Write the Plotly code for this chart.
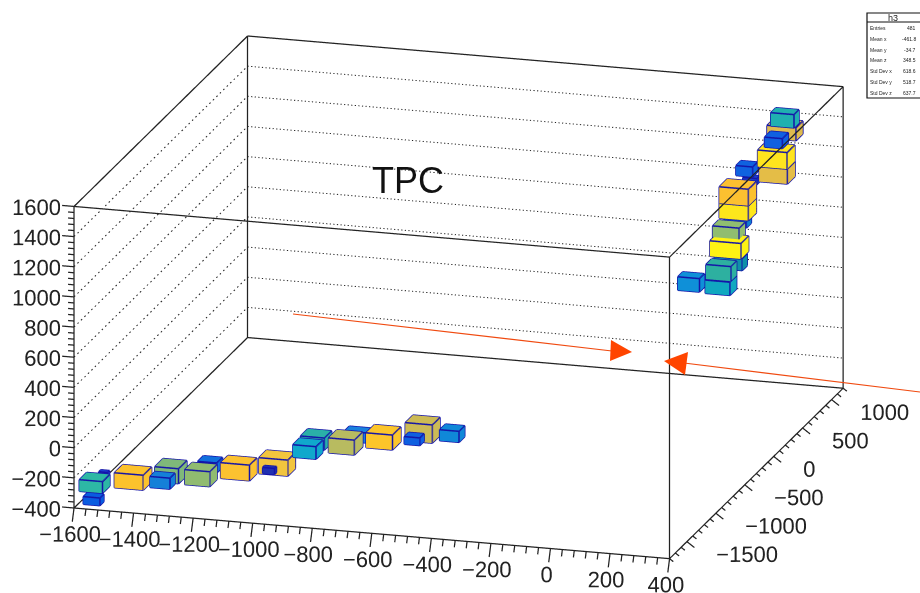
import numpy as np
import plotly.graph_objects as go

# axis definition
x_min, x_max = -1600, 400
y_min, y_max = -1800, 1200
z_min, z_max = -400, 1600
x_ticks = list(range(-1600, 401, 200))
y_ticks = [-1500, -1000, -500, 0, 500, 1000]
z_ticks = list(range(-400, 1601, 200))

# box histogram: centre, size, colour of each box
bx = [-1560,-1544,-1557,-1431,-1343,-1332,-1203,-1211,-1076,-947,-955,-855,-844,-717,-715,-590,-468,-473,-359,
      253,234,254,224,227,96,101,95,95,66,65,76,42,49,-91,48]
by = [-1650,-1750,-1500,-1650,-1450,-1650,-1650,-1450,-1650,-1650,-1740,-1450,-1650,-1650,-1450,-1650,-1600,-1720,-1650,
      950,1050,800,950,950,1100,1150,950,950,1100,950,900,1100,900,1100,900]
bz = [-283,-351,-274,-225,-244,-228,-168,-177,-104,-49,-62,48,64,127,104,182,238,217,248,
      1463,1344,1373,1206,1102,1042,952,942,838,707,677,601,422,438,260,342]
bdx = [78,56,30,97,80,67,84,64,97,97,40,80,78,87,74,89,91,52,65,
       78,97,60,99,95,56,47,98,98,74,89,104,94,84,73,83]
bdy = [127,69,35,144,144,87,127,99,127,133,35,127,116,144,87,144,133,75,99,
       87,121,104,133,133,87,50,139,139,87,104,133,87,99,87,116]
bdz = [77,51,25,99,99,73,99,66,104,106,40,80,83,99,66,99,121,51,73,
       88,86,66,110,99,66,40,110,99,80,99,103,80,97,89,88]
bcol = ["#2db8a5","#0a5ce0","#1a3fd0","#fcc22c","#7fb87a","#1580d8","#90bb70","#1070dd","#fcc230","#f2c53e","#2030b0",
        "#2ab0a8","#10a8cc","#b8bb60","#1a80dd","#fcc52a","#ccba55","#0f60e0","#1088d8",
        "#20b0b0","#dfbb4e","#1060e0","#fee41e","#e4bd47","#0f62e0","#1a40c8","#fcc030","#fde61c","#1080d0","#90bd70",
        "#fdf214","#1090a8","#2db0a0","#0f90d8","#10a8c0"]

stats_labels = ["Entries", "Mean x", "Mean y", "Mean z", "Std Dev x", "Std Dev y", "Std Dev z"]
stats_values = ["481", "-461.8", "-34.7", "348.5", "618.6", "518.7", "637.7"]

fig = go.Figure()

# boxes
vx, vy, vz, fi, fj, fk, fcol = [], [], [], [], [], [], []
ex, ey, ez = [], [], []
quad = [(0,1,2),(0,2,3),(4,5,6),(4,6,7),(0,1,5),(0,5,4),(1,2,6),(1,6,5),(2,3,7),(2,7,6),(3,0,4),(3,4,7)]
edges = [(0,1),(1,2),(2,3),(3,0),(4,5),(5,6),(6,7),(7,4),(0,4),(1,5),(2,6),(3,7)]
for cx, cy, cz, dx, dy, dz, c in zip(bx, by, bz, bdx, bdy, bdz, bcol):
    n = len(vx)
    xs = [cx-dx/2, cx+dx/2, cx+dx/2, cx-dx/2]*2
    ys = [cy-dy/2, cy-dy/2, cy+dy/2, cy+dy/2]*2
    zs = [cz-dz/2]*4 + [cz+dz/2]*4
    vx += xs; vy += ys; vz += zs
    for a, b, d in quad:
        fi.append(n+a); fj.append(n+b); fk.append(n+d); fcol.append(c)
    for a, b in edges:
        ex += [xs[a], xs[b], None]; ey += [ys[a], ys[b], None]; ez += [zs[a], zs[b], None]
fig.add_trace(go.Mesh3d(x=vx, y=vy, z=vz, i=fi, j=fj, k=fk, facecolor=fcol, flatshading=True,
                        lighting=dict(ambient=1, diffuse=0, specular=0, fresnel=0, roughness=1),
                        hoverinfo="skip", showscale=False))
fig.add_trace(go.Scatter3d(x=ex, y=ey, z=ez, mode="lines", line=dict(color="#1414a8", width=3), hoverinfo="skip"))

# wire frame
wx, wy, wz = [], [], []
def seg(a, b):
    wx.extend([a[0], b[0], None]); wy.extend([a[1], b[1], None]); wz.extend([a[2], b[2], None])
for yy, zz in [(y_min,z_min),(y_max,z_min),(y_min,z_max),(y_max,z_max)]:
    seg((x_min,yy,zz),(x_max,yy,zz))
for xx, zz in [(x_min,z_min),(x_max,z_min),(x_min,z_max),(x_max,z_max)]:
    seg((xx,y_min,zz),(xx,y_max,zz))
for xx, yy in [(x_min,y_min),(x_max,y_min),(x_min,y_max),(x_max,y_max)]:
    seg((xx,yy,z_min),(xx,yy,z_max))
# ticks
for v in range(x_min, x_max+1, 40):
    major = (v - x_min) % 200 == 0
    L = 1.0 if major else 0.5
    seg((v,y_min,z_min),(v,y_min-30*L,z_min-80*L))
for v in range(y_min, y_max+1, 100):
    major = v % 500 == 0
    L = 1.0 if major else 0.5
    seg((x_max,v,z_min),(x_max+25*L,v,z_min-35*L))
for v in range(z_min, z_max+1, 40):
    major = (v - z_min) % 200 == 0
    L = 1.0 if major else 0.5
    seg((x_min,y_min,v),(x_min-40*L,y_min,v))
fig.add_trace(go.Scatter3d(x=wx, y=wy, z=wz, mode="lines", line=dict(color="#222222", width=2.5), hoverinfo="skip"))

# dotted grid on back walls, drawn as short dashes
gx, gy, gz = [], [], []
for v in z_ticks[1:-1]:
    for t in np.arange(x_min, x_max, 12):
        gx += [t, t+4, None]; gy += [y_max, y_max, None]; gz += [v, v, None]
    for t in np.arange(y_min, y_max, 60):
        gx += [x_min, x_min, None]; gy += [t, t+20, None]; gz += [v, v, None]
fig.add_trace(go.Scatter3d(x=gx, y=gy, z=gz, mode="lines", line=dict(color="#222222", width=2), hoverinfo="skip"))

# tick labels
lab = lambda v: str(v).replace("-", "\u2212")
tick_font = dict(family="Liberation Sans", size=22, color="#222222")
fig.add_trace(go.Scatter3d(x=[v-8 for v in x_ticks], y=[y_min-30]*len(x_ticks), z=[z_min+36]*len(x_ticks), mode="text",
                           text=[lab(v) for v in x_ticks], textposition="bottom center", textfont=tick_font, hoverinfo="skip"))
fig.add_trace(go.Scatter3d(x=[x_max+28]*len(y_ticks), y=y_ticks, z=[z_min-78]*len(y_ticks), mode="text",
                           text=[lab(v) for v in y_ticks], textposition="middle right", textfont=tick_font, hoverinfo="skip"))
fig.add_trace(go.Scatter3d(x=[x_min+27]*len(z_ticks), y=[y_min]*len(z_ticks), z=z_ticks, mode="text",
                           text=[lab(v) for v in z_ticks], textposition="middle left", textfont=tick_font, hoverinfo="skip"))

common = dict(showbackground=False, showgrid=False, zeroline=False, showline=False, ticks="", title=dict(text=""),
              showticklabels=False, showspikes=False, tickmode="array")
th, ph = np.radians(16.8), np.radians(16.4)
dist = 2.5
center = dict(x=-0.0136, y=0.0011, z=0.0163)
eye = dict(x=center["x"]+dist*np.cos(th)*np.sin(ph), y=center["y"]-dist*np.cos(th)*np.cos(ph), z=center["z"]+dist*np.sin(th))
stats_ann = []
rows = list(zip(stats_labels, stats_values))
for i, (a, b) in enumerate(rows):
    py = 1 - (28 + i*10.8) / 593
    stats_ann.append(dict(text=a, x=868/920, y=py, xref="paper", yref="paper", xanchor="left", yanchor="middle",
                          showarrow=False, font=dict(family="Liberation Sans", size=5, color="#222")))
    stats_ann.append(dict(text=b, x=918/920, y=py, xref="paper", yref="paper", xanchor="right", yanchor="middle",
                          showarrow=False, font=dict(family="Liberation Sans", size=5, color="#222")))
stats_ann.append(dict(text="h3", x=893/920, y=1-18/593, xref="paper", yref="paper", xanchor="center", yanchor="middle", showarrow=False,
                      font=dict(family="Liberation Sans", size=9, color="#222")))
stats_ann.append(dict(text="TPC", x=408/920, y=1-180/593, xref="paper", yref="paper", xanchor="center", yanchor="middle", showarrow=False,
                      font=dict(family="Liberation Sans", size=36, color="#111")))
def P(px, py): return px/920, 1-py/593
shapes = [
    dict(type="rect", xref="paper", yref="paper", x0=867/920, x1=921/920, y0=1-13/593, y1=1-98/593,
         line=dict(color="#111", width=1.2), fillcolor="white"),
    dict(type="line", xref="paper", yref="paper", x0=867/920, x1=920/920, y0=1-22/593, y1=1-22/593, line=dict(color="#111", width=1)),
    dict(type="line", xref="paper", yref="paper", x0=293/920, y0=1-314/593, x1=612/920, y1=1-351/593, line=dict(color="#f04a10", width=1.2)),
    dict(type="line", xref="paper", yref="paper", x0=920/920, y0=1-392/593, x1=684/920, y1=1-363/593, line=dict(color="#f04a10", width=1.2)),
    dict(type="path", xref="paper", yref="paper", fillcolor="#ff4500", line=dict(width=0),
         path="M {} {} L {} {} L {} {} Z".format(*P(611,340), *P(632,352), *P(610,361))),
    dict(type="path", xref="paper", yref="paper", fillcolor="#ff4500", line=dict(width=0),
         path="M {} {} L {} {} L {} {} Z".format(*P(664,361), *P(688,352), *P(685,375))),
]
fig.update_layout(
    width=920, height=593, margin=dict(l=0, r=0, t=0, b=0), paper_bgcolor="white", showlegend=False,
    annotations=stats_ann, shapes=shapes,
    scene=dict(
        domain=dict(x=[0,1], y=[0,1]),
        xaxis=dict(range=[-1645,480], tickvals=x_ticks, **common),
        yaxis=dict(range=[-1830,1230], tickvals=y_ticks, **common),
        zaxis=dict(range=[-480,1630], tickvals=z_ticks, **common),
        aspectmode="manual", aspectratio=dict(x=2.2246, y=2.1147, z=1.1208),
        camera=dict(eye=eye, center=center, up=dict(x=0,y=0,z=1), projection=dict(type="orthographic")),
    ),
)
fig.write_html("out.html", config=dict(displayModeBar=False),
               post_script="document.body.style.margin='0';document.documentElement.style.overflow='hidden';")
